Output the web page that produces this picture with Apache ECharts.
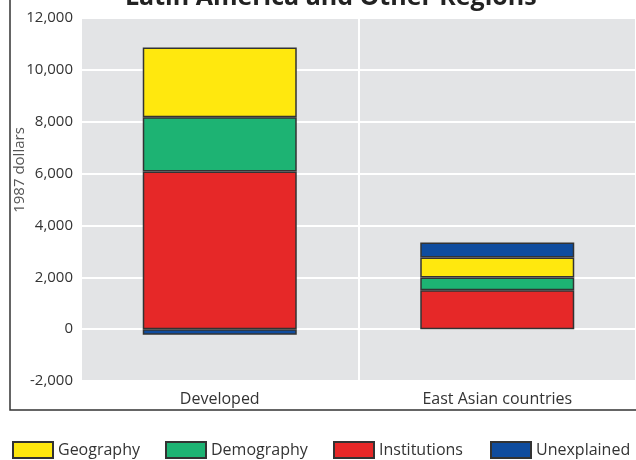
<!DOCTYPE html>
<html>
<head>
<meta charset="utf-8">
<script src="https://cdn.jsdelivr.net/npm/echarts@6/dist/echarts.min.js"></script>
<style>
    html, body { margin: 0; padding: 0; background: #fff; }
    #divChart { width: 636px; height: 460px; }
</style>
</head>
<body>
<div id="divChart"></div>
<script>
// data
var categories = ['Developed', 'East Asian countries'];
var institutions = [6080, 1500];
var demography = [2090, 490];
var geography = [2690, 770];
var unexplained = [-220, 580];
var yTicks = [-2000, 0, 2000, 4000, 6000, 8000, 10000, 12000];

var fontName = 'Open Sans';
var colors = {
    geography: '#ffe80e',
    demography: '#1db373',
    institutions: '#e62828',
    unexplained: '#0f4c9e'
};

var myChart = echarts.init(document.getElementById('divChart'));

function makeLegend(name, left) {
    return {
        data: [{name: name, icon: 'rect'}],
        left: left,
        top: 441,
        padding: 0,
        itemWidth: 40,
        itemHeight: 16,
        selectedMode: false,
        textStyle: {color: '#333', fontSize: 16, fontFamily: fontName}
    };
}

function makeSeries(name, data, color) {
    return {
        name: name,
        type: 'bar',
        stack: 'total',
        barWidth: 154,
        data: data,
        itemStyle: {
            color: color,
            borderColor: '#333',
            borderWidth: 1.5
        }
    };
}

var option = {
    animation: false,
    backgroundColor: '#fff',
    title: {
        text: 'Latin America and Other Regions',
        left: 120,
        top: -20,
        textStyle: {color: '#222', fontSize: 25, fontWeight: 'bold', fontFamily: fontName}
    },
    legend: [
        makeLegend('Geography', 12),
        makeLegend('Demography', 165),
        makeLegend('Institutions', 333),
        makeLegend('Unexplained', 490)
    ],
    grid: {
        left: 81,
        right: 0,
        top: 18,
        bottom: 79,
        show: true,
        backgroundColor: '#e3e4e6',
        borderWidth: 0
    },
    xAxis: {
        type: 'category',
        data: categories,
        axisLine: {show: false},
        axisTick: {show: false},
        axisLabel: {color: '#333', fontSize: 16, margin: 10, fontFamily: fontName},
        splitLine: {show: true, lineStyle: {color: '#fff', width: 2}}
    },
    yAxis: {
        type: 'value',
        min: yTicks[0],
        max: yTicks[yTicks.length - 1],
        interval: 2000,
        axisLine: {show: false},
        axisTick: {show: false},
        axisLabel: {
            color: '#333',
            fontSize: 15,
            margin: 8,
            fontFamily: fontName,
            formatter: function (v) {
                return v.toLocaleString('en-US');
            }
        },
        splitLine: {lineStyle: {color: '#fff', width: 2}}
    },
    graphic: [
        {
            type: 'rect',
            shape: {x: 10, y: -10, width: 640, height: 420},
            style: {fill: 'none', stroke: '#333', lineWidth: 1.5},
            silent: true
        },
        {
            type: 'text',
            x: 20,
            y: 170,
            rotation: Math.PI / 2,
            style: {
                text: '1987 dollars',
                fill: '#555',
                fontSize: 15,
                fontFamily: fontName,
                align: 'center',
                verticalAlign: 'middle'
            }
        }
    ],
    series: [
        makeSeries('Institutions', institutions, colors.institutions),
        makeSeries('Demography', demography, colors.demography),
        makeSeries('Geography', geography, colors.geography),
        makeSeries('Unexplained', unexplained, colors.unexplained)
    ]
};
myChart.setOption(option);
</script>
</body>
</html>
